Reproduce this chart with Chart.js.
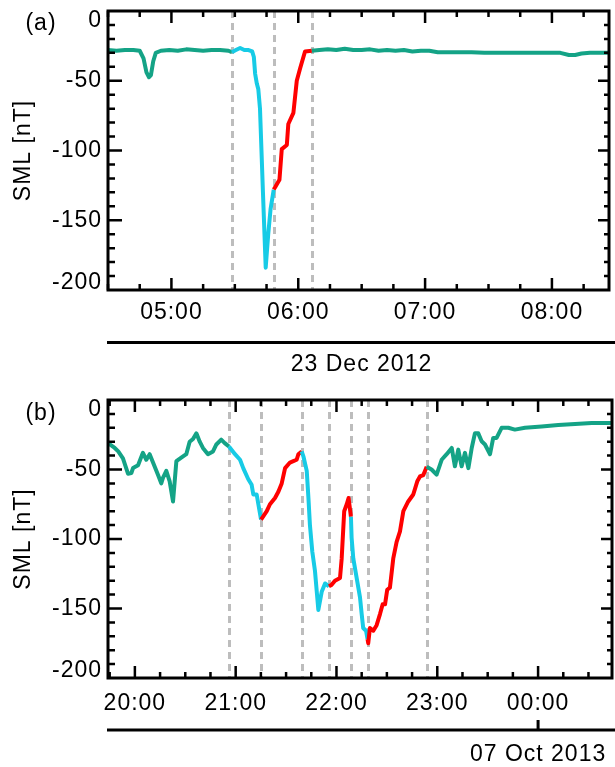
<!DOCTYPE html>
<html>
<head>
<meta charset="utf-8">
<script src="https://cdn.jsdelivr.net/npm/chart.js@4.4.1/dist/chart.umd.min.js"></script>
<style>
  body { margin: 0; background: #fff; }
  canvas { position: absolute; left: 0; }
</style>
</head>
<body>
<canvas id="panelA" width="615" height="383" style="top:0"></canvas>
<canvas id="panelB" width="615" height="384" style="top:383px"></canvas>
<script>
// times are minutes after 00:00 of the first day shown
const timesA = [270, 274, 278, 282, 285, 286.8, 288.2, 289.4, 290.3, 291.4, 292.6, 295, 299, 303, 307, 311, 315, 319, 323, 327,
  328.6, 330.5, 332.5, 334.5, 336.5, 338.2, 339, 339.6, 340.4, 341.1, 341.9, 343.3, 344.6, 345.8, 346.9, 348.4,
  349.2, 351.1, 352.2, 354.6, 355.3, 357.7, 359.3, 360.9, 363.2, 366.4,
  370, 374, 378, 382, 386, 390, 394, 398, 402, 406, 410, 414, 418, 422, 426, 430, 436, 442, 448, 454, 460, 466,
  472, 478, 484, 488, 491, 494, 498, 502, 507];
const smlA = [-28, -28.5, -28, -28, -28.5, -34, -44, -47.5, -46, -36, -30, -28.5, -28, -28.5, -27.5, -28, -28.5, -28, -28, -28.5,
  -29.5, -28, -26.5, -28, -28, -29, -33, -45, -52, -56, -70, -130, -184, -160, -142, -128,
  -126, -121, -99, -96, -81, -73, -50, -41, -29, -28.5,
  -28, -27.5, -28, -27, -28, -28, -27.5, -28.5, -28, -28.5, -28, -29, -28.5, -28.5, -29.5, -29.5, -29.5, -29.5, -30, -30, -30, -30,
  -30, -30, -30, -31.5, -31.5, -30.5, -30, -30, -30];
const edgesA = [328.6, 348.4, 366.4];
const colorsA = ['green', 'cyan', 'red', 'green'];
const hourTicksA = [300, 360, 420, 480];
const dateA = '23 Dec 2012';

const timesB = [1184, 1188, 1190.1, 1192.9, 1195.9, 1197.9, 1198.9, 1201.9, 1204.1, 1204.8, 1206.8, 1208.8, 1210.8, 1213.8,
  1215.7, 1216.7, 1218.7, 1220.7, 1222.7, 1224.7, 1227.6, 1230.6, 1232.6, 1234.6, 1236.6, 1238.6, 1240.5, 1243.5,
  1246.5, 1248.5, 1251.4, 1253.5,
  1256, 1259.6, 1262.6, 1264.5, 1267.5, 1269.5, 1270.5, 1272.5, 1273.5,
  1275.1, 1278.5, 1280.4, 1283.4, 1285.4, 1287.4, 1289.4, 1292.3, 1294.3, 1296.3, 1297.3,
  1299.3, 1300.3, 1302.3, 1303.3, 1304.2, 1305.6, 1307.2, 1309.2, 1311.2, 1313.2,
  1315.5, 1317.1, 1319.1, 1322.1, 1323.1, 1324.6, 1326.1, 1327.2,
  1328.6, 1329.0, 1330.0, 1332.0, 1334.0, 1335.0, 1335.9, 1337.6,
  1338.5, 1338.9, 1339.9, 1341.9, 1343.9, 1345.9, 1347.5, 1348.9, 1350.2, 1351.8, 1353.8, 1355.8, 1357.8, 1359.8,
  1362.7, 1365.7, 1368.1, 1369.7, 1371.7,
  1373.7, 1376.6, 1379.6, 1382.6, 1385.6, 1388.6, 1390.5, 1392.5, 1394.5, 1396.5, 1398.5, 1400.5, 1402.4, 1404.4,
  1406.4, 1408.4, 1411.4, 1413.3, 1415.3, 1418.3, 1422.3, 1426.2, 1432.2, 1442.1, 1452, 1462, 1471.9, 1484];
const smlB = [-31, -34.5, -37, -42, -53, -52.5, -49, -47, -40, -38, -43, -39, -45, -54,
  -60, -56, -51, -58.5, -73, -44, -41.5, -39, -30, -28, -24, -30, -34.5, -39,
  -37, -32, -28.5, -31,
  -33.5, -39, -43, -49, -57, -61, -68, -68, -75,
  -86, -80, -75, -70.5, -66, -60, -49, -45, -44, -43, -39,
  -37, -40.5, -51, -70.5, -90, -109, -123, -151, -138, -132,
  -134, -133, -130, -128, -114, -80, -75, -70.5,
  -84, -99, -114, -128, -142, -154, -164, -166,
  -172, -175, -164, -166, -162, -154, -147, -147, -136.5, -135, -114, -102, -94.5, -80,
  -73, -68, -58.5, -55, -54,
  -48, -50, -53.7, -43, -39, -34.5, -47.7, -35.7, -47.7, -38, -49, -34.5, -24, -24,
  -29.7, -32, -39, -27.3, -27.3, -20, -20, -21.3, -20, -19, -18, -17.3, -16.5, -16.5];
const edgesB = [1256, 1275.1, 1299.3, 1315.5, 1328.6, 1338.5, 1373.7];
const colorsB = ['green', 'cyan', 'red', 'cyan', 'red', 'cyan', 'red', 'green'];
const hourTicksB = [1200, 1260, 1320, 1380, 1440];
const dateB = '07 Oct 2013';

const yMajor = [-200, -150, -100, -50, 0];

const FONT = "'Liberation Sans', Arial, Helvetica, sans-serif";
const FSIZE = 23;
const PALETTE = { green: '#14a386', cyan: '#17cbe6', red: '#ff0000' };

function clock(m) {
  const h = Math.floor(m / 60) % 24, mm = Math.round(m % 60);
  return String(h).padStart(2, '0') + ':' + String(mm).padStart(2, '0');
}

function decor(p) {
  return {
    id: 'decor',
    beforeDraw(chart) {
      chart.ctx.letterSpacing = '1px';
    },
    beforeDatasetsDraw(chart) {
      const { ctx, chartArea: a, scales: { x } } = chart;
      ctx.save();
      ctx.strokeStyle = '#bdbdbd';
      ctx.lineWidth = 3;
      ctx.setLineDash([7, 5]);
      p.edges.forEach(t => {
        const px = Math.round(x.getPixelForValue(t)) + 0.5;
        ctx.beginPath();
        ctx.moveTo(px, a.top);
        ctx.lineTo(px, a.bottom);
        ctx.stroke();
      });
      ctx.restore();
    },
    afterDraw(chart) {
      const { ctx, chartArea: a, scales: { x, y } } = chart;
      ctx.save();
      ctx.strokeStyle = '#000';
      ctx.lineWidth = 2.5;
      // minor/major ticks pointing inwards
      ctx.beginPath();
      for (let t = Math.ceil(x.min / 15) * 15; t <= x.max; t += 15) {
        const px = x.getPixelForValue(t), len = t % 60 === 0 ? 12 : 6;
        ctx.moveTo(px, a.bottom); ctx.lineTo(px, a.bottom - len);
        ctx.moveTo(px, a.top); ctx.lineTo(px, a.top + len);
      }
      for (let v = -190; v < 0; v += 10) {
        const py = y.getPixelForValue(v), major = v % 50 === 0;
        ctx.moveTo(a.left, py); ctx.lineTo(a.left + (major ? 14 : 7), py);
        ctx.moveTo(a.right, py); ctx.lineTo(a.right - (major ? 11 : 5), py);
      }
      ctx.stroke();
      ctx.lineWidth = 3;
      ctx.strokeRect(a.left, a.top, a.right - a.left, a.bottom - a.top);

      // date bar below the time axis
      ctx.beginPath();
      ctx.moveTo(a.left - 1, p.dateLineY);
      ctx.lineTo(chart.width, p.dateLineY);
      let dx = (a.left + chart.width) / 2;
      if (p.dateAt !== null) {
        dx = x.getPixelForValue(p.dateAt);
        ctx.moveTo(dx, p.dateLineY);
        ctx.lineTo(dx, p.dateLineY - 10);
      }
      ctx.stroke();

      ctx.fillStyle = '#000';
      ctx.font = FSIZE + 'px ' + FONT;
      ctx.textBaseline = 'middle';
      ctx.textAlign = 'center';
      ctx.fillText(p.date, dx, p.dateTextY);
      ctx.fillText(p.label, 41, p.labelY);
      ctx.restore();
    }
  };
}

function makePanel(id, p) {
  const pts = p.times.map((t, i) => ({ x: t, y: p.sml[i] }));
  const pick = m => {
    let k = 0;
    while (k < p.edges.length && m >= p.edges[k]) k++;
    return PALETTE[p.colors[k]];
  };
  return new Chart(document.getElementById(id), {
    type: 'line',
    data: {
      datasets: [{
        data: pts,
        borderColor: PALETTE[p.colors[0]],
        borderWidth: 4,
        borderJoinStyle: 'round',
        pointRadius: 0,
        tension: 0,
        segment: {
          borderColor: c => pick((c.p0.parsed.x + c.p1.parsed.x) / 2)
        }
      }]
    },
    options: {
      responsive: false,
      animation: false,
      events: [],
      layout: { padding: { top: p.top, right: p.right, left: 0, bottom: 0 } },
      plugins: { legend: { display: false }, tooltip: { enabled: false } },
      scales: {
        x: {
          type: 'linear',
          min: p.xMin,
          max: p.xMax,
          grid: { display: false, drawTicks: false },
          border: { display: false },
          afterBuildTicks: s => { s.ticks = p.hours.map(v => ({ value: v })); },
          afterFit: s => { s.height = p.xHeight; s.paddingLeft = 0; s.paddingRight = 0; },
          ticks: {
            padding: p.xPad,
            color: '#000',
            autoSkip: false,
            maxRotation: 0,
            font: { family: FONT, size: FSIZE },
            callback: v => clock(v)
          }
        },
        y: {
          type: 'linear',
          min: -200,
          max: 0,
          grid: { display: false, drawTicks: false },
          border: { display: false },
          afterBuildTicks: s => { s.ticks = yMajor.map(v => ({ value: v })); },
          afterFit: s => { s.width = 108; s.paddingTop = 0; s.paddingBottom = 0; },
          ticks: {
            padding: 6,
            color: '#000',
            autoSkip: false,
            font: c => {
              const v = c.tick ? c.tick.value : null;
              return { family: FONT, size: FSIZE, lineHeight: v === 0 ? '20px' : v === -200 ? '14px' : 1.2 };
            },
            callback: v => v === 0 ? ['', '0'] : v === -200 ? ['-200', ''] : String(v)
          },
          title: {
            display: true,
            text: 'SML [nT]',
            color: '#000',
            font: { family: FONT, size: FSIZE },
            padding: { top: 10, bottom: 0 }
          }
        }
      }
    },
    plugins: [decor(p)]
  });
}

makePanel('panelA', {
  times: timesA, sml: smlA, edges: edgesA, colors: colorsA, hours: hourTicksA,
  xMin: 270, xMax: 507, top: 11, right: 6, xHeight: 93, xPad: 9,
  date: dateA, dateAt: null, dateLineY: 342.5, dateTextY: 365, label: '(a)', labelY: 24
});
makePanel('panelB', {
  times: timesB, sml: smlB, edges: edgesB, colors: colorsB, hours: hourTicksB,
  xMin: 1184, xMax: 1484, top: 17, right: 3, xHeight: 89, xPad: 12,
  date: dateB, dateAt: 1440, dateLineY: 347, dateTextY: 372, label: '(b)', labelY: 30.5
});
</script>
</body>
</html>
